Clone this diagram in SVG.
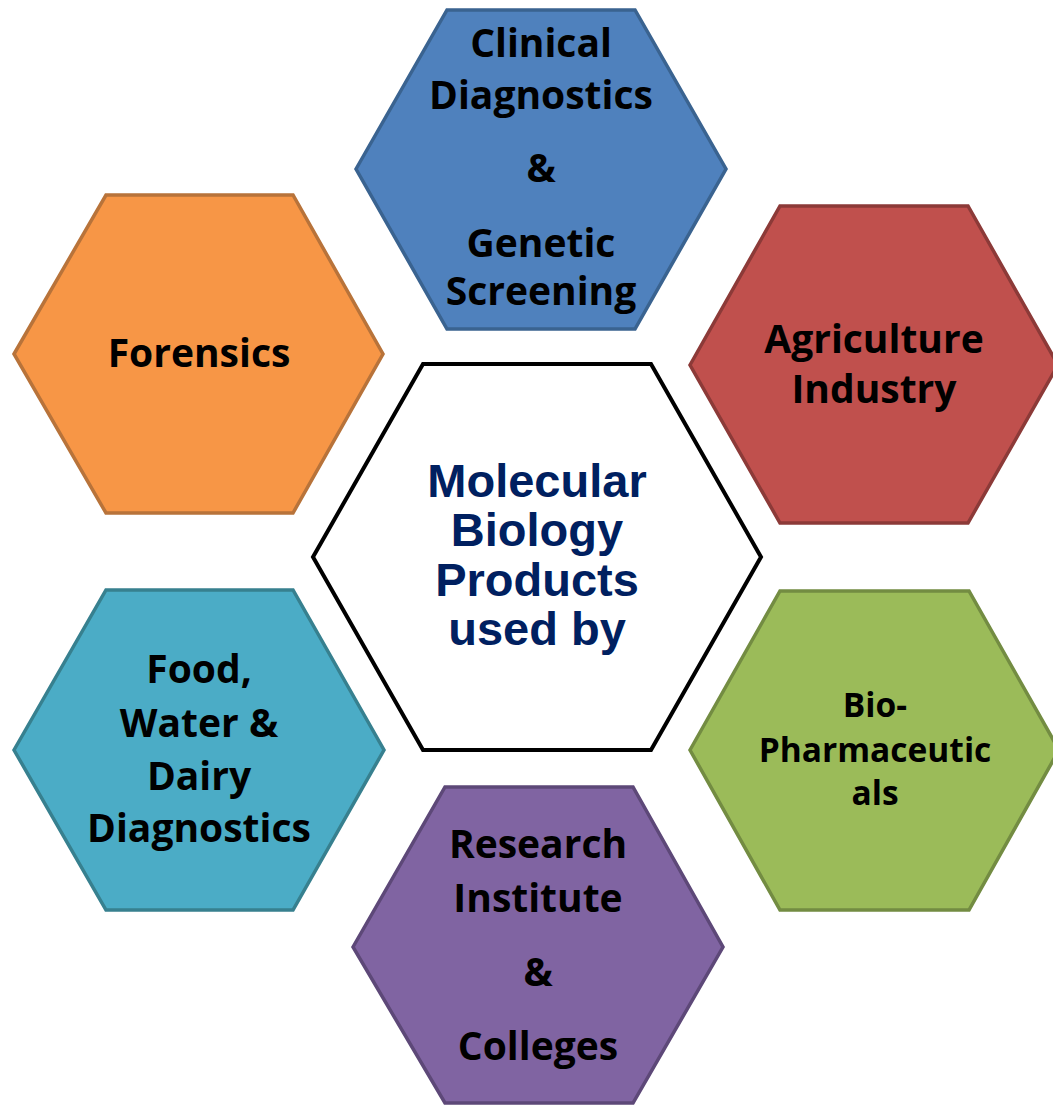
<svg xmlns="http://www.w3.org/2000/svg" width="1053" height="1106" viewBox="0 0 1053 1106">
<style>
.hex{stroke-width:3.5;stroke-linejoin:miter}
.lbl{font-family:"Open Sans","Noto Sans","Liberation Sans",sans-serif;font-weight:bold;fill:#000;text-anchor:middle}
.ctr{font-family:"Liberation Sans",Arial,sans-serif;font-weight:bold;fill:#002060;text-anchor:middle;font-size:47px}
</style>
<rect width="1053" height="1106" fill="#fff"/>
<g id="connectors"></g>
<g id="clinical">
<polygon class="hex" points="356,169 447,10 635,10 726,169 635,329 447,329" fill="#4F81BD" stroke="#3A6390"/>
<text class="lbl" font-size="39"><tspan x="541" y="57">Clinical</tspan><tspan x="541" y="109">Diagnostics</tspan><tspan x="541" y="182">&amp;</tspan><tspan x="541" y="257">Genetic</tspan><tspan x="541" y="305">Screening</tspan></text>
</g>
<g id="forensics">
<polygon class="hex" points="14,354 106,195 293,195 383,354 293,513 106,513" fill="#F79646" stroke="#B8733A"/>
<text class="lbl" font-size="39" x="199" y="367">Forensics</text>
</g>
<g id="agriculture">
<polygon class="hex" points="690,365 780,206 968,206 1058,365 968,523 780,523" fill="#C0504D" stroke="#8C3A38"/>
<text class="lbl" font-size="39"><tspan x="874" y="353">Agriculture</tspan><tspan x="874" y="403">Industry</tspan></text>
</g>
<g id="center">
<polygon points="313,557 423,364 651,364 761,557 651,750 423,750" fill="#fff" stroke="#000" stroke-width="4"/>
<text class="ctr"><tspan x="537" y="497">Molecular</tspan><tspan x="537" y="546">Biology</tspan><tspan x="537" y="596">Products</tspan><tspan x="537" y="645">used by</tspan></text>
</g>
<g id="food">
<polygon class="hex" points="14,750 106,590 293,590 384,750 293,910 106,910" fill="#4BACC6" stroke="#37808F"/>
<text class="lbl" font-size="39"><tspan x="199" y="683">Food,</tspan><tspan x="199" y="737">Water &amp;</tspan><tspan x="199" y="790">Dairy</tspan><tspan x="199" y="842">Diagnostics</tspan></text>
</g>
<g id="biopharma">
<polygon class="hex" points="690,750 780,591 969,591 1059,750 969,910 780,910" fill="#9BBB59" stroke="#738C42"/>
<text class="lbl" font-size="33.5"><tspan x="875" y="717">Bio-</tspan><tspan x="875" y="762">Pharmaceutic</tspan><tspan x="875" y="805">als</tspan></text>
</g>
<g id="research">
<polygon class="hex" points="353,947 445,787 633,787 723,947 633,1103 445,1103" fill="#8064A2" stroke="#5D4878"/>
<text class="lbl" font-size="39"><tspan x="538" y="858">Research</tspan><tspan x="538" y="912">Institute</tspan><tspan x="538" y="986">&amp;</tspan><tspan x="538" y="1060">Colleges</tspan></text>
</g>
</svg>
